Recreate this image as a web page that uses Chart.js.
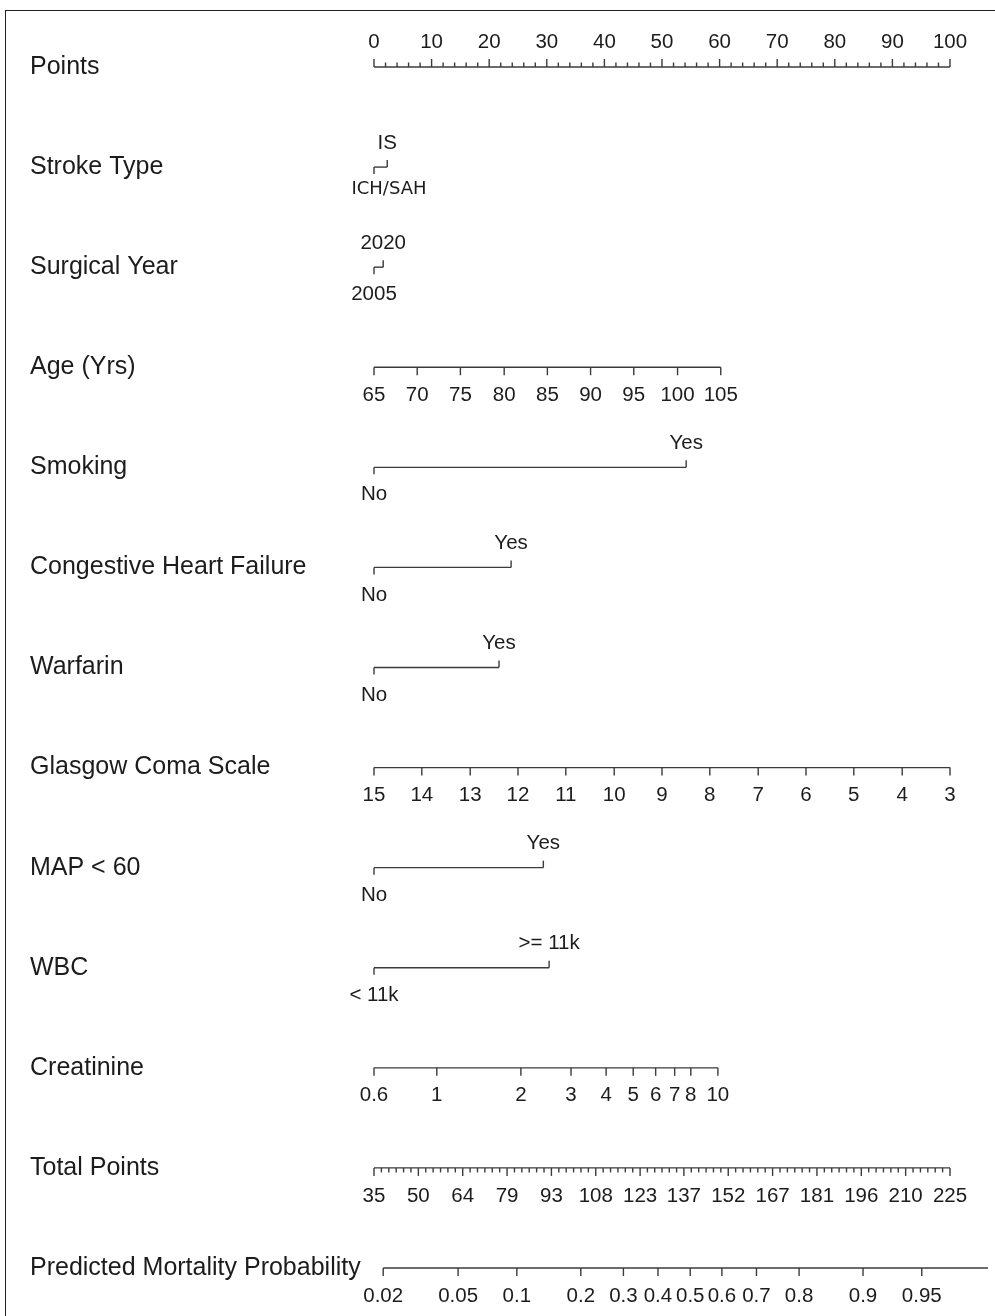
<!DOCTYPE html>
<html>
<head>
<meta charset="utf-8">
<script src="https://cdn.jsdelivr.net/npm/chart.js@4/dist/chart.umd.min.js"></script>
<style>
html, body { margin: 0; padding: 0; background: #fff; overflow: hidden; }
#wrap { position: relative; width: 995px; height: 1316px; }
#frame { position: absolute; left: 5px; top: 10px; width: 1010px; height: 1330px;
         border-left: 1.5px solid #222; border-top: 1.5px solid #222; pointer-events: none; }
</style>
</head>
<body>
<div id="wrap">
  <canvas id="nomo" width="995" height="1316"></canvas>
  <div id="frame"></div>
</div>
<script>
// nomogram rows, top to bottom
const rowNames = ['Points', 'Stroke Type', 'Surgical Year', 'Age (Yrs)', 'Smoking',
    'Congestive Heart Failure', 'Warfarin', 'Glasgow Coma Scale', 'MAP < 60', 'WBC',
    'Creatinine', 'Total Points', 'Predicted Mortality Probability'];

// every position below is in "points" (0-100 on the top scale)
const pointsTicks = [0, 10, 20, 30, 40, 50, 60, 70, 80, 90, 100];

const strokeLabels = ['ICH/SAH', 'IS'];
const strokePoints = [0, 2.3];

const yearLabels = ['2005', '2020'];
const yearPoints = [0, 1.6];

const ageLabels = [65, 70, 75, 80, 85, 90, 95, 100, 105];
const agePoints = [0, 7.5, 15, 22.6, 30.1, 37.6, 45.1, 52.7, 60.2];

const yesNo = ['No', 'Yes'];
const smokingPoints = [0, 54.2];
const chfPoints = [0, 23.8];
const warfarinPoints = [0, 21.7];

const gcsLabels = [15, 14, 13, 12, 11, 10, 9, 8, 7, 6, 5, 4, 3];
const gcsPoints = [0, 8.3, 16.7, 25, 33.3, 41.7, 50, 58.3, 66.7, 75, 83.3, 91.7, 100];

const mapPoints = [0, 29.4];

const wbcLabels = ['< 11k', '>= 11k'];
const wbcPoints = [0, 30.4];

const creatLabels = ['0.6', '1', '2', '3', '4', '5', '6', '7', '8', '10'];
const creatPoints = [0, 10.9, 25.5, 34.2, 40.3, 45.0, 48.9, 52.2, 55.0, 59.7];

const totalLabels = [35, 50, 64, 79, 93, 108, 123, 137, 152, 167, 181, 196, 210, 225];
const totalPoints = [0, 7.7, 15.4, 23.1, 30.8, 38.5, 46.2, 53.8, 61.5, 69.2, 76.9, 84.6, 92.3, 100];

const probLabels = ['0.02', '0.05', '0.1', '0.2', '0.3', '0.4', '0.5', '0.6', '0.7', '0.8', '0.9', '0.95'];
const probPoints = [1.6, 14.6, 24.8, 35.9, 43.3, 49.3, 54.9, 60.4, 66.4, 73.8, 84.9, 95.1];
const probLineEnd = 106.6;

const lineColor = '#3b3b3b';
const textColor = '#1c1c1c';
const nameFont = '25px "Liberation Sans", Arial, sans-serif';
const tickFont = '20.5px "Liberation Sans", Arial, sans-serif';

const rows = [
    { kind: 'scale', pts: pointsTicks, labels: pointsTicks, side: -1, minor: 5 },
    { kind: 'cat', pts: strokePoints, labels: strokeLabels, belowFont: '18px "DejaVu Sans", sans-serif', belowShift: 15, belowGap: 22 },
    { kind: 'cat', pts: yearPoints, labels: yearLabels },
    { kind: 'scale', pts: agePoints, labels: ageLabels, side: 1 },
    { kind: 'cat', pts: smokingPoints, labels: yesNo },
    { kind: 'cat', pts: chfPoints, labels: yesNo },
    { kind: 'cat', pts: warfarinPoints, labels: yesNo },
    { kind: 'scale', pts: gcsPoints, labels: gcsLabels, side: 1 },
    { kind: 'cat', pts: mapPoints, labels: yesNo },
    { kind: 'cat', pts: wbcPoints, labels: wbcLabels },
    { kind: 'scale', pts: creatPoints, labels: creatLabels, side: 1 },
    { kind: 'scale', pts: totalPoints, labels: totalLabels, side: 1, minor: 6 },
    { kind: 'scale', pts: probPoints, labels: probLabels, side: 1, lineEnd: probLineEnd }
];

const datasets = rows.map((r, i) => ({
    label: rowNames[i],
    data: [{ x: r.pts[0], y: i }, { x: r.lineEnd !== undefined ? r.lineEnd : r.pts[r.pts.length - 1], y: i }],
    borderColor: lineColor,
    borderWidth: 1.4,
    pointRadius: 0,
    clip: false
}));

const nomoAxes = {
    id: 'nomoAxes',
    afterDatasetsDraw(chart) {
        const ctx = chart.ctx;
        const xs = chart.scales.x, ys = chart.scales.y;
        ctx.save();
        ctx.strokeStyle = lineColor;
        ctx.lineWidth = 1.4;
        ctx.fillStyle = textColor;
        ctx.textBaseline = 'middle';

        const tick = (x, y, len) => {
            ctx.beginPath();
            ctx.moveTo(x, y);
            ctx.lineTo(x, y + len);
            ctx.stroke();
        };

        rows.forEach((r, i) => {
            const y = ys.getPixelForValue(i);
            ctx.font = nameFont;
            ctx.textAlign = 'left';
            ctx.fillText(rowNames[i], 30, y);

            ctx.textAlign = 'center';
            if (r.kind === 'scale') {
                ctx.font = tickFont;
                const gap = r.side > 0 ? 28 : -25;
                r.pts.forEach((p, k) => {
                    const x = xs.getPixelForValue(p);
                    tick(x, y, 8 * r.side);
                    ctx.fillText(String(r.labels[k]), x, y + gap);
                    if (r.minor && k < r.pts.length - 1) {
                        const step = (r.pts[k + 1] - p) / r.minor;
                        for (let m = 1; m < r.minor; m++) {
                            tick(xs.getPixelForValue(p + step * m), y, 4.5 * r.side);
                        }
                    }
                });
            } else {
                const x0 = xs.getPixelForValue(r.pts[0]);
                const x1 = xs.getPixelForValue(r.pts[1]);
                tick(x0, y, 7);
                tick(x1, y, -7);
                ctx.font = r.belowFont || tickFont;
                ctx.fillText(r.labels[0], x0 + (r.belowShift || 0), y + (r.belowGap || 27.5));
                ctx.font = tickFont;
                ctx.fillText(r.labels[1], x1, y - 24);
            }
        });
        ctx.restore();
    }
};

new Chart(document.getElementById('nomo').getContext('2d'), {
    type: 'line',
    data: { datasets: datasets },
    options: {
        responsive: false,
        animation: false,
        devicePixelRatio: 1,
        layout: { padding: { left: 374, right: 45, top: 67, bottom: 48 } },
        scales: {
            x: { type: 'linear', min: 0, max: 100, display: false },
            y: { type: 'linear', min: 0, max: rows.length - 1, reverse: true, display: false }
        },
        plugins: { legend: { display: false }, tooltip: { enabled: false } }
    },
    plugins: [nomoAxes]
});
</script>
</body>
</html>
